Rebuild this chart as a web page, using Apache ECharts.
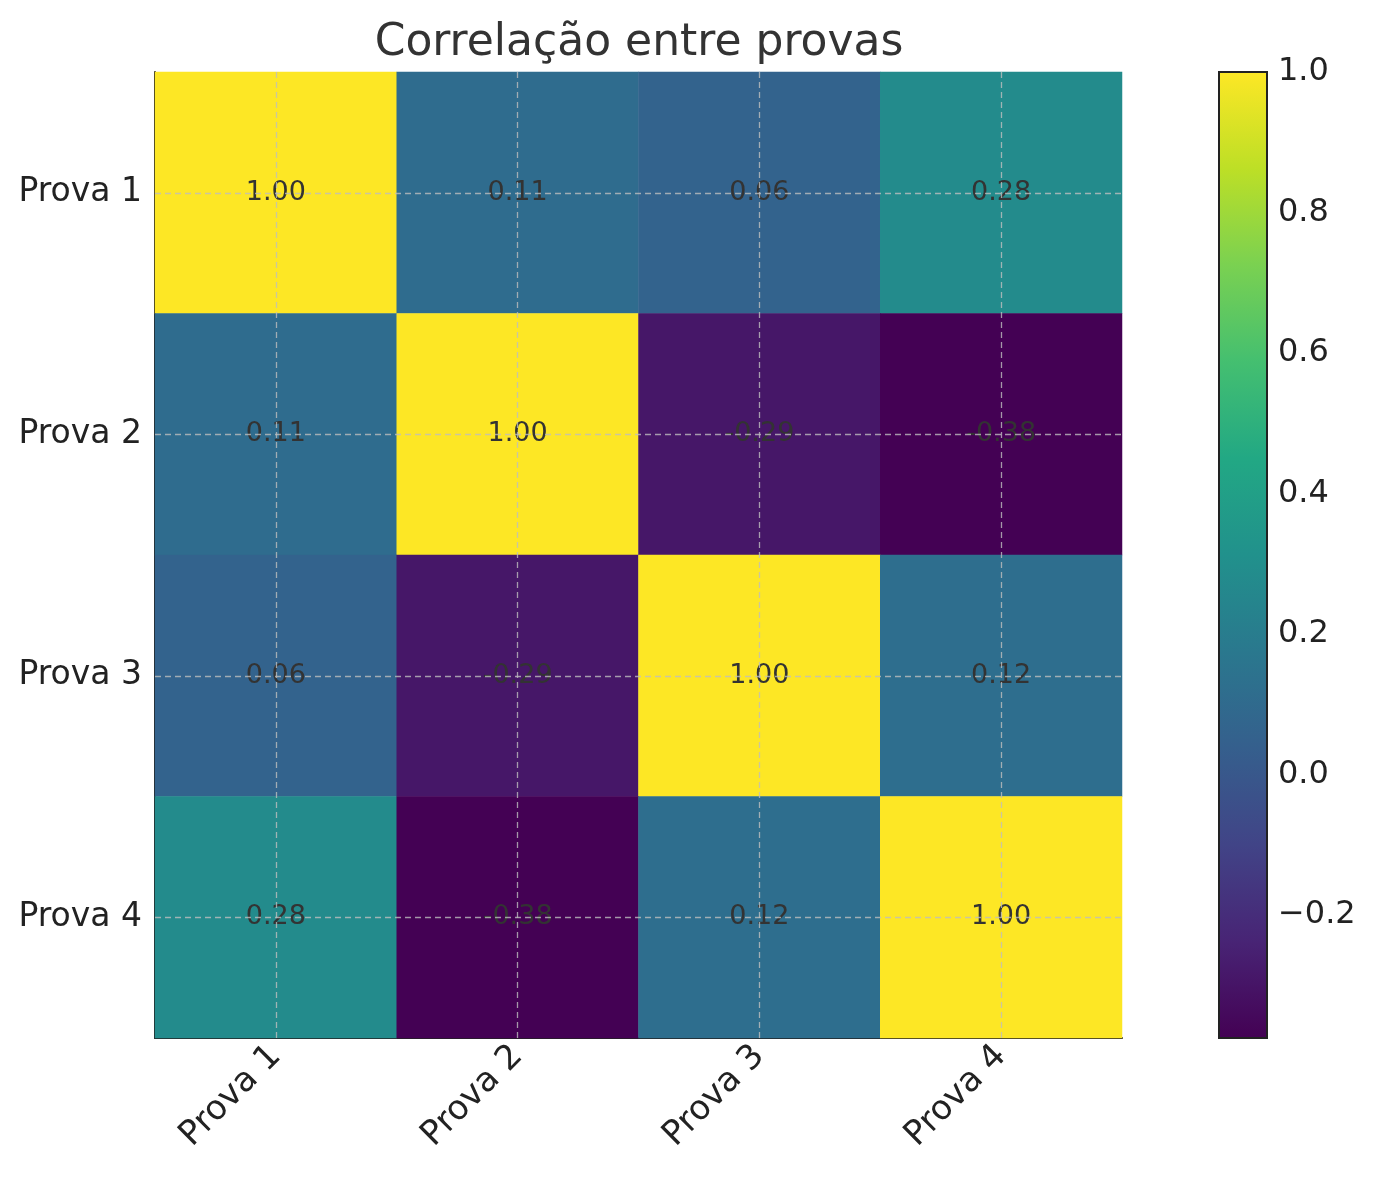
<!DOCTYPE html>
<html>
<head>
<meta charset="utf-8">
<script src="https://cdn.jsdelivr.net/npm/echarts@6/dist/echarts.min.js"></script>
<style>html,body{margin:0;padding:0;background:#fff}#c{width:1378px;height:1180px}</style>
</head>
<body>
<div id="c"></div>
<script>
const categories = ['Prova 1', 'Prova 2', 'Prova 3', 'Prova 4'];
const corrMatrix = [
  [1.00, 0.11, 0.06, 0.28],
  [0.11, 1.00, -0.29, -0.38],
  [0.06, -0.29, 1.00, 0.12],
  [0.28, -0.38, 0.12, 1.00]
];
const colorbarTicks = [-0.2, 0.0, 0.2, 0.4, 0.6, 0.8, 1.0];
const colorMin = -0.375;
const colorMax = 1.0;
const viridis = ['#440154', '#482475', '#414487', '#355f8d', '#2a788e', '#21918c', '#22a884', '#44bf70', '#7ad151', '#bddf26', '#fde725'];

const heatData = [];
for (let r = 0; r < categories.length; r++) {
  for (let c = 0; c < categories.length; c++) {
    heatData.push([c, r, corrMatrix[r][c]]);
  }
}

const font = 'DejaVu Sans';
const chart = echarts.init(document.getElementById('c'));
chart.setOption({
  backgroundColor: '#fff',
  animation: false,
  title: {
    text: 'Correlação entre provas',
    left: 634,
    textAlign: 'center',
    top: 17,
    textStyle: { fontFamily: font, fontSize: 44, fontWeight: 'normal', color: '#333' }
  },
  grid: [
    { left: 155, top: 72, width: 967, height: 966 },
    { left: 1219, top: 72, width: 48, height: 966, show: true, borderColor: '#222', borderWidth: 2, backgroundColor: 'transparent', z: 5 }
  ],
  xAxis: [
    {
      type: 'category', data: categories, gridIndex: 0,
      axisLine: { lineStyle: { color: '#222', width: 2 } },
      axisTick: { alignWithLabel: true, length: 8, lineStyle: { color: '#222', width: 1.5 } },
      axisLabel: { rotate: 45, margin: 13, fontFamily: font, fontSize: 34, color: '#222' },
      splitLine: { show: false }
    },
    { type: 'value', gridIndex: 1, min: 0, max: 1, show: false }
  ],
  yAxis: [
    {
      type: 'category', data: categories, inverse: true, gridIndex: 0,
      axisLine: { lineStyle: { color: '#222', width: 2 } },
      axisTick: { alignWithLabel: true, length: 8, lineStyle: { color: '#222', width: 1.5 } },
      axisLabel: { margin: 13, fontFamily: font, fontSize: 33, color: '#222' },
      splitLine: { show: false }
    },
    {
      type: 'value', gridIndex: 1, min: colorMin, max: colorMax, position: 'right',
      axisLine: { show: false },
      splitLine: { show: false },
      axisTick: { show: true, length: 8, customValues: colorbarTicks, lineStyle: { color: '#222', width: 1.5 } },
      axisLabel: {
        margin: 11, fontFamily: font, fontSize: 32, color: '#222', customValues: colorbarTicks,
        formatter: v => v.toFixed(1).replace('-', '\u2212')
      }
    }
  ],
  visualMap: {
    show: false, min: colorMin, max: colorMax, seriesIndex: 0, dimension: 2,
    inRange: { color: viridis }
  },
  series: [
    {
      type: 'heatmap', xAxisIndex: 0, yAxisIndex: 0, data: heatData,
      label: {
        show: true, fontFamily: font, fontSize: 27, color: '#333',
        formatter: p => p.value[2].toFixed(2)
      },
      emphasis: { disabled: true },
      markLine: {
        silent: true, symbol: 'none', label: { show: false },
        lineStyle: { type: [6, 4], color: 'rgba(190,190,190,0.8)', width: 1.3 },
        data: categories.map(c => ({ xAxis: c })).concat(categories.map(c => ({ yAxis: c })))
      }
    },
    {
      type: 'custom', xAxisIndex: 1, yAxisIndex: 1, data: [[0]],
      renderItem: (params, api) => {
        const p1 = api.coord([0, colorMax]);
        const p2 = api.coord([1, colorMin]);
        return {
          type: 'rect',
          shape: { x: p1[0], y: p1[1], width: p2[0] - p1[0], height: p2[1] - p1[1] },
          style: {
            fill: {
              type: 'linear', x: 0, y: 0, x2: 0, y2: 1,
              colorStops: viridis.slice().reverse().map((col, i) => ({ offset: i / (viridis.length - 1), color: col }))
            }
          }
        };
      }
    }
  ]
});
</script>
</body>
</html>
